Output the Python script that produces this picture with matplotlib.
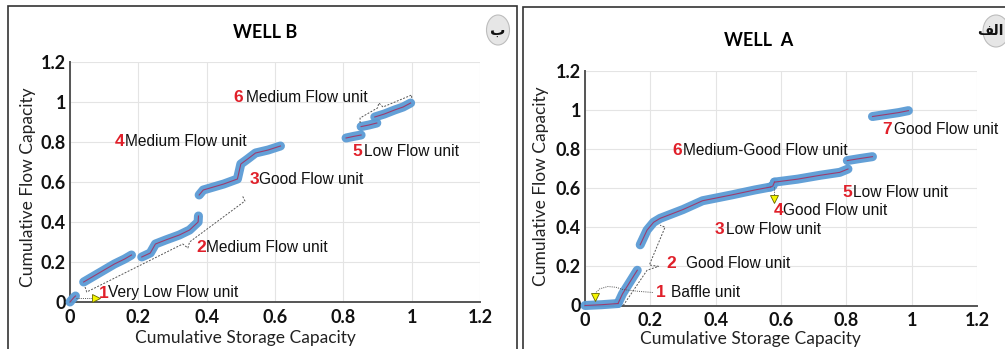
import matplotlib
matplotlib.use("Agg")
import matplotlib.pyplot as plt
from matplotlib.patches import Rectangle, Ellipse

# ---------------- DATA ----------------
# WELL B (left panel) - flow unit segments (cumulative storage, cumulative flow)
B_u1_x = [0.0, 0.006, 0.012, 0.016]
B_u1_y = [0.0, 0.012, 0.024, 0.030]
B_u2a_x = [0.040, 0.070, 0.100, 0.130, 0.160, 0.180]
B_u2a_y = [0.100, 0.130, 0.160, 0.190, 0.215, 0.235]
B_u2b_x = [0.210, 0.235, 0.250, 0.280, 0.320, 0.350, 0.375, 0.376]
B_u2b_y = [0.225, 0.245, 0.290, 0.310, 0.335, 0.360, 0.400, 0.430]
B_u34_x = [0.378, 0.390, 0.420, 0.450, 0.474, 0.490, 0.500, 0.520, 0.543, 0.580, 0.616]
B_u34_y = [0.535, 0.560, 0.575, 0.590, 0.605, 0.615, 0.690, 0.715, 0.745, 0.760, 0.780]
B_u5_x = [0.808, 0.830, 0.852]
B_u5_y = [0.820, 0.828, 0.835]
B_u6a_x = [0.852, 0.875, 0.898]
B_u6a_y = [0.877, 0.885, 0.895]
B_u6b_x = [0.892, 0.920, 0.950, 0.975, 0.997]
B_u6b_y = [0.925, 0.940, 0.960, 0.975, 0.995]

# WELL A (right panel)
A_u1_x = [0.0, 0.050, 0.101]
A_u1_y = [0.0, 0.004, 0.010]
A_u2_x = [0.101, 0.115, 0.130, 0.145, 0.160]
A_u2_y = [0.010, 0.060, 0.100, 0.140, 0.180]
A_u3_x = [0.169, 0.190, 0.210, 0.230, 0.300, 0.360, 0.450, 0.520, 0.568]
A_u3_y = [0.310, 0.385, 0.425, 0.445, 0.490, 0.535, 0.565, 0.590, 0.605]
A_u4_x = [0.568, 0.575, 0.580]
A_u4_y = [0.605, 0.610, 0.630]
A_u6_x = [0.580, 0.650, 0.720, 0.780, 0.805]
A_u6_y = [0.630, 0.645, 0.665, 0.680, 0.697]
A_u5_x = [0.803, 0.840, 0.880]
A_u5_y = [0.740, 0.750, 0.760]
A_u7_x = [0.880, 0.920, 0.960, 0.990]
A_u7_y = [0.965, 0.975, 0.985, 0.995]

ticks = [0, 0.2, 0.4, 0.6, 0.8, 1.0, 1.2]
tick_labels = ["0", "0.2", "0.4", "0.6", "0.8", "1", "1.2"]

B_numbers = ["1", "2", "3", "4", "5", "6"]
B_names = ["Very Low Flow unit", "Medium Flow unit", "Good Flow unit",
           "Medium Flow unit", "Low Flow unit", "Medium Flow unit"]
A_numbers = ["1", "2", "3", "4", "5", "6", "7"]
A_names = ["Baffle unit", "Good Flow unit", "Low Flow unit", "Good Flow unit",
           "Low Flow unit", "Medium-Good Flow unit", "Good Flow unit"]

# ---------------- LAYOUT ----------------
W, H = 1005, 349
# label positions (number x, name x, y) in data coords
B_label_pos = [(0.085, 0.111, 0.045), (0.369, 0.398, 0.27), (0.527, 0.553, 0.615),
               (0.132, 0.161, 0.80), (0.828, 0.860, 0.755), (0.477, 0.515, 1.025)]
A_label_pos = [(0.218, 0.264, 0.064), (0.248, 0.310, 0.216), (0.396, 0.433, 0.390),
               (0.577, 0.607, 0.487), (0.788, 0.819, 0.579), (0.267, 0.301, 0.790),
               (0.911, 0.945, 0.900)]

BLUE = "#5B9BD5"
INNER = "#9C3C6E"
RED = "#E0202A"
SANS = ["Liberation Sans", "DejaVu Sans"]
BOLD = ["Lato", "DejaVu Sans"]

fig = plt.figure(figsize=(W / 100, H / 100), dpi=100)


def fx(px):
    return px / W


def fy(py):
    return 1 - py / H


def make_axes(x0, x12, y0, y12):
    ax = fig.add_axes([fx(x0), fy(y0), fx(x12) - fx(x0), fy(y12) - fy(y0)])
    ax.set_xlim(0, 1.2)
    ax.set_ylim(0, 1.2)
    ax.set_xticks(ticks)
    ax.set_yticks(ticks)
    ax.set_xticklabels(tick_labels, fontfamily=BOLD, fontweight="bold", fontsize=13)
    ax.set_yticklabels(tick_labels, fontfamily=BOLD, fontweight="bold", fontsize=13)
    ax.tick_params(axis="x", length=0, pad=5, colors="#111111")
    ax.tick_params(axis="y", length=0, pad=3, colors="#111111")
    ax.grid(True, color="#e4e4e4", lw=0.8)
    ax.set_axisbelow(True)
    for s in ["top", "right"]:
        ax.spines[s].set_visible(False)
    for s in ["left", "bottom"]:
        ax.spines[s].set_color("#555555")
        ax.spines[s].set_linewidth(1.4)
    return ax


def draw_seg(ax, x, y):
    ax.plot(x, y, color=BLUE, lw=6.5, solid_capstyle="round",
            solid_joinstyle="round", zorder=3, clip_on=False, alpha=0.95)
    ax.plot(x, y, color=INNER, lw=0.8, zorder=4, clip_on=False)


def labels(ax, nums, names, pos):
    for n, t, (xn, xt, yy) in zip(nums, names, pos):
        ax.text(xn, yy, n, color=RED, fontweight="bold", fontsize=12.5,
                fontfamily=SANS, ha="left", va="center", zorder=6)
        ax.text(xt, yy, t, color="#111111", fontsize=11.2, fontfamily=SANS,
                ha="left", va="center", zorder=6)


def dashed(ax, pts, ls=(0, (2.0, 1.5))):
    xs = [p[0] for p in pts]
    ys = [p[1] for p in pts]
    ax.plot(xs, ys, color="#555555", lw=0.7, ls=ls, zorder=5, clip_on=False)


# ---- panel frames ----
fig.patches.append(Rectangle((fx(8), fy(356)), fx(517) - fx(8), fy(6) - fy(356),
                             transform=fig.transFigure, fill=False,
                             edgecolor="#333333", lw=1.2))
fig.patches.append(Rectangle((fx(523), fy(356)), fx(1012) - fx(523), fy(7) - fy(356),
                             transform=fig.transFigure, fill=False,
                             edgecolor="#333333", lw=1.2))

# ---- WELL B ----
axB = make_axes(70, 480, 302, 62)
for sx, sy in [(B_u1_x, B_u1_y), (B_u2a_x, B_u2a_y), (B_u2b_x, B_u2b_y),
               (B_u34_x, B_u34_y), (B_u5_x, B_u5_y), (B_u6a_x, B_u6a_y),
               (B_u6b_x, B_u6b_y)]:
    draw_seg(axB, sx, sy)
labels(axB, B_numbers, B_names, B_label_pos)
dashed(axB, [(0.018, 0.02), (0.072, 0.02)], ls=(0, (1, 1.2)))
axB.plot([0.075], [0.02], marker=">", ms=6, color="#f5f500", mec="#666600",
         mew=0.6, zorder=6, clip_on=False)
dashed(axB, [(0.044, 0.075), (0.049, 0.05), (0.33, 0.29), (0.345, 0.27),
             (0.35, 0.30), (0.512, 0.505), (0.505, 0.53)])
dashed(axB, [(0.849, 0.895), (0.849, 0.92), (0.90, 0.97), (0.904, 0.995),
             (0.916, 0.975), (1.0, 1.035), (1.0, 1.015)])

fig.text(fx(265), fy(33), "WELL B", fontfamily=BOLD, fontweight="bold",
         fontsize=13, ha="center", va="center")
fig.text(fx(245), fy(338), "Cumulative Storage Capacity", fontfamily=BOLD,
         fontsize=12.5, ha="center", va="center", color="#222222")
fig.text(fx(28), fy(187), "Cumulative Flow Capacity", fontfamily=BOLD,
         fontsize=12.5, ha="center", va="center", rotation=90, color="#222222")

# ---- WELL A ----
axA = make_axes(585, 977, 305.5, 70.5)
for sx, sy in [(A_u1_x, A_u1_y), (A_u2_x, A_u2_y), (A_u3_x, A_u3_y),
               (A_u4_x, A_u4_y), (A_u6_x, A_u6_y), (A_u5_x, A_u5_y),
               (A_u7_x, A_u7_y)]:
    draw_seg(axA, sx, sy)
labels(axA, A_numbers, A_names, A_label_pos)
dashed(axA, [(0.03, 0.06), (0.045, 0.085), (0.07, 0.097), (0.095, 0.093),
             (0.115, 0.082), (0.16, 0.073), (0.21, 0.066)], ls=(0, (1, 1.2)))
axA.plot([0.03], [0.045], marker="v", ms=6, color="#f5f500", mec="#666600",
         mew=0.6, zorder=6, clip_on=False)
dashed(axA, [(0.117, 0.0), (0.19, 0.18), (0.225, 0.20), (0.197, 0.207),
             (0.245, 0.40), (0.23, 0.41)])
dashed(axA, [(0.58, 0.605), (0.58, 0.56)], ls=(0, (1, 1.2)))
axA.plot([0.58], [0.545], marker="v", ms=6, color="#f5f500", mec="#666600",
         mew=0.6, zorder=6, clip_on=False)

fig.text(fx(759), fy(40), "WELL  A", fontfamily=BOLD, fontweight="bold",
         fontsize=13, ha="center", va="center")
fig.text(fx(750), fy(339), "Cumulative Storage Capacity", fontfamily=BOLD,
         fontsize=12.5, ha="center", va="center", color="#222222")
fig.text(fx(541), fy(186), "Cumulative Flow Capacity", fontfamily=BOLD,
         fontsize=12.5, ha="center", va="center", rotation=90, color="#222222")

# ---- badges ----
for cx, cy, w, h, tx, fs, txt in [(498, 30, 23, 30, 498, 11, "ب"),
                                  (996, 31, 26, 32, 990, 10, "\uFED2\uFEDF\uFE8D")]:
    fig.patches.append(Ellipse((fx(cx), fy(cy)), fx(w), h / H,
                               transform=fig.transFigure, facecolor="#e6e6e6",
                               edgecolor="#bdbdbd", lw=0.8))
    fig.text(fx(tx), fy(cy), txt, fontfamily=["DejaVu Sans"], fontweight="bold",
             fontsize=fs, ha="center", va="center", color="#111111")

fig.savefig("out.png", dpi=100)
